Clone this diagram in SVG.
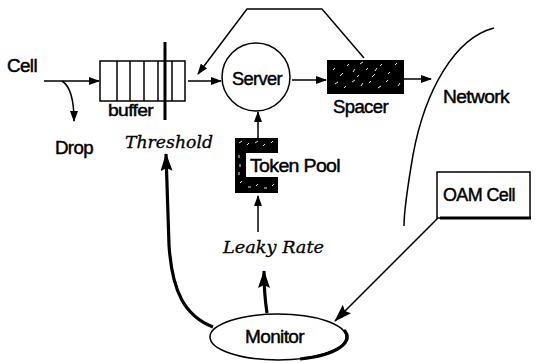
<svg xmlns="http://www.w3.org/2000/svg" width="537" height="363" viewBox="0 0 537 363">
<style>
.lbl{font-family:"Liberation Sans",Arial,sans-serif;font-size:18px;fill:#000;stroke:#000;stroke-width:0.45px;letter-spacing:-0.6px}
.ital{font-family:"DejaVu Serif","Liberation Serif",serif;font-style:italic;font-size:17px;fill:#000;stroke:#000;stroke-width:0.3px}
.ln{fill:none;stroke:#000;stroke-width:1.5}
.thick{fill:none;stroke:#000;stroke-width:3.2}
.spk{stroke:#fff;stroke-width:0.9;fill:none}
</style>
<defs>
<marker id="ah" markerUnits="userSpaceOnUse" markerWidth="11" markerHeight="8" refX="10" refY="4" orient="auto">
<path d="M0,0 L11,4 L0,8 z" fill="#000"/>
</marker>
<marker id="ahb" markerUnits="userSpaceOnUse" markerWidth="18" markerHeight="12" refX="17" refY="6" orient="auto">
<path d="M0,0 L18,6 L0,12 L3,6 z" fill="#000"/>
</marker>
</defs>
<rect width="537" height="363" fill="#fff"/>

<g id="connectors">
<line class="ln" x1="44" y1="81" x2="99" y2="81" marker-end="url(#ah)"/>
<path class="ln" d="M62,81 C70,86 74,98 74,121" marker-end="url(#ah)"/>
<line class="ln" x1="188" y1="81" x2="221" y2="81" marker-end="url(#ah)"/>
<line class="ln" x1="292" y1="80" x2="326" y2="80" marker-end="url(#ah)"/>
<line class="ln" x1="404" y1="79" x2="431" y2="79" marker-end="url(#ah)"/>
<polyline class="ln" points="364,58 322,9 247,9 198,74" marker-end="url(#ah)"/>
<line class="ln" x1="258" y1="138" x2="258" y2="112" marker-end="url(#ah)"/>
<line class="ln" x1="258" y1="232" x2="258" y2="196" marker-end="url(#ah)"/>
<path class="thick" d="M267,313 C265,300 264,290 264,271" marker-end="url(#ahb)"/>
<path class="thick" d="M213,327 C185,316 172,292 169,245 L166,154" marker-end="url(#ahb)"/>
<line class="ln" x1="438" y1="218" x2="335" y2="321" marker-end="url(#ahb)"/>
</g>

<g id="cell"><text class="lbl" x="7" y="72" textLength="30" lengthAdjust="spacingAndGlyphs">Cell</text></g>
<g id="drop"><text class="lbl" x="55" y="154" textLength="38" lengthAdjust="spacingAndGlyphs">Drop</text></g>

<g id="buffer">
<rect class="ln" x="100" y="61" width="85" height="40"/>
<line class="ln" x1="117" y1="61" x2="117" y2="101"/>
<line class="ln" x1="130" y1="61" x2="130" y2="101"/>
<line class="ln" x1="144" y1="61" x2="144" y2="101"/>
<line class="ln" x1="158" y1="61" x2="158" y2="101"/>
<line class="ln" x1="172" y1="61" x2="172" y2="101"/>
<line x1="165" y1="42" x2="165" y2="120" stroke="#000" stroke-width="3"/>
<text class="lbl" x="108" y="116" textLength="45" lengthAdjust="spacingAndGlyphs" style="font-size:17px">buffer</text>
</g>

<g id="threshold"><text class="ital" x="125" y="148" textLength="88" lengthAdjust="spacingAndGlyphs">Threshold</text></g>

<g id="server">
<circle class="ln" cx="256" cy="77" r="34"/>
<text class="lbl" x="232" y="85" textLength="50" lengthAdjust="spacingAndGlyphs">Server</text>
</g>

<g id="spacer">
<rect x="327" y="60" width="77" height="34" fill="#000"/>
<path class="spk" d="M333,70 l2,-2 M340,76 l3,-3 M347,66 l2,-2 M353,72 l2,-3 M360,64 l3,-2 M366,70 l2,-2 M372,77 l3,-3 M380,66 l2,-2 M388,74 l2,-2 M395,65 l2,-2 M335,84 l3,-2 M344,88 l2,-2 M352,82 l3,-2 M361,86 l2,-3 M369,83 l2,-2 M378,88 l3,-2 M386,82 l2,-2 M398,86 l2,-3 M357,77 l2,-2 M375,71 l2,-3"/>
<text class="lbl" x="333" y="113" textLength="55" lengthAdjust="spacingAndGlyphs">Spacer</text>
</g>

<g id="network">
<path class="ln" d="M494,28 C455,38 425,90 413,155 C407,190 404,210 404,226"/>
<text class="lbl" x="443" y="103" textLength="66" lengthAdjust="spacingAndGlyphs">Network</text>
</g>

<g id="tokenpool">
<rect x="235" y="138" width="43" height="55" fill="#000"/>
<rect x="246" y="153" width="34" height="24" fill="#fff"/>
<path class="spk" d="M239,143 l3,-2 M247,145 l2,-2 M255,143 l3,-2 M263,146 l2,-2 M271,143 l2,-2 M239,155 l0,3 M240,164 l0,3 M239,172 l0,3 M240,183 l2,-2 M248,187 l3,0 M256,186 l2,-2 M264,188 l3,0 M272,186 l2,-2"/>
<text class="lbl" x="250" y="172" textLength="90" lengthAdjust="spacingAndGlyphs">Token Pool</text>
</g>

<g id="leakyrate"><text class="ital" x="223" y="253" textLength="101" lengthAdjust="spacingAndGlyphs">Leaky Rate</text></g>

<g id="oamcell">
<rect class="ln" x="437" y="172" width="93" height="46" fill="#fff"/>
<line x1="440" y1="218" x2="531" y2="218" stroke="#000" stroke-width="3"/>
<text class="lbl" x="443" y="201" textLength="72" lengthAdjust="spacingAndGlyphs">OAM Cell</text>
</g>

<g id="monitor">
<ellipse class="ln" cx="278" cy="337" rx="68" ry="23" fill="#fff"/>
<path d="M344,330 A68,23 0 0 1 300,359" fill="none" stroke="#000" stroke-width="3.2"/>
<text class="lbl" x="245" y="343" textLength="59" lengthAdjust="spacingAndGlyphs">Monitor</text>
</g>
</svg>
